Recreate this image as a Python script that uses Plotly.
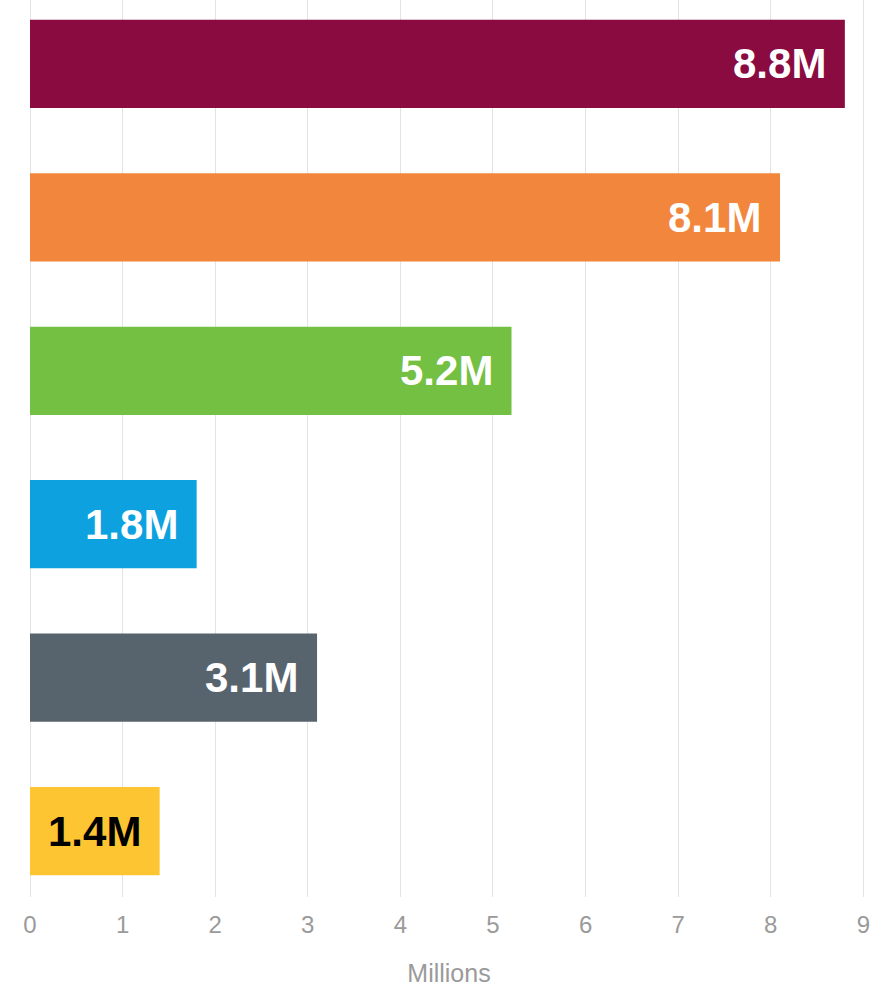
import plotly.graph_objects as go

categories = ["Bar 1", "Bar 2", "Bar 3", "Bar 4", "Bar 5", "Bar 6"]
values = [8.8, 8.1, 5.2, 1.8, 3.1, 1.4]
labels = ["8.8M", "8.1M", "5.2M", "1.8M", "3.1M", "1.4M"]
colors = ["#8A0B40", "#F2863C", "#74C043", "#0DA2DF", "#58646D", "#FDC532"]
text_colors = ["white", "white", "white", "white", "white", "black"]
tick_vals = [0, 1, 2, 3, 4, 5, 6, 7, 8, 9]

ypos = list(range(len(categories)))

fig = go.Figure()
fig.add_trace(go.Bar(
    x=values, y=ypos, orientation="h",
    marker=dict(color=colors, line=dict(width=0)),
    width=0.575, hoverinfo="skip",
))

for i, (v, t, c) in enumerate(zip(values, labels, text_colors)):
    fig.add_annotation(x=v, y=i, text=f"<b>{t}</b>", showarrow=False,
                       xanchor="right", yanchor="middle", xshift=-17,
                       font=dict(family="Liberation Sans", size=42, color=c))

fig.update_layout(
    width=881, height=990,
    margin=dict(l=30, r=13, t=0, b=93),
    plot_bgcolor="white", paper_bgcolor="white",
    showlegend=False,
    xaxis=dict(range=[0, 9.05], tickvals=tick_vals, ticktext=[str(t) for t in tick_vals],
               showgrid=True, gridcolor="#E3E3E3", gridwidth=1,
               zeroline=True, zerolinecolor="#E3E3E3", zerolinewidth=1,
               showline=False, ticks="", ticklabelstandoff=11,
               tickfont=dict(family="Liberation Sans", size=24, color="#9A9A9A"),
               title=dict(text="Millions", standoff=27,
                          font=dict(family="Liberation Sans", size=25, color="#9A9A9A"))),
    yaxis=dict(range=[5.43, -0.417], showticklabels=False, showgrid=False,
               zeroline=False, showline=False, ticks=""),
)

fig.write_html("out.html")
